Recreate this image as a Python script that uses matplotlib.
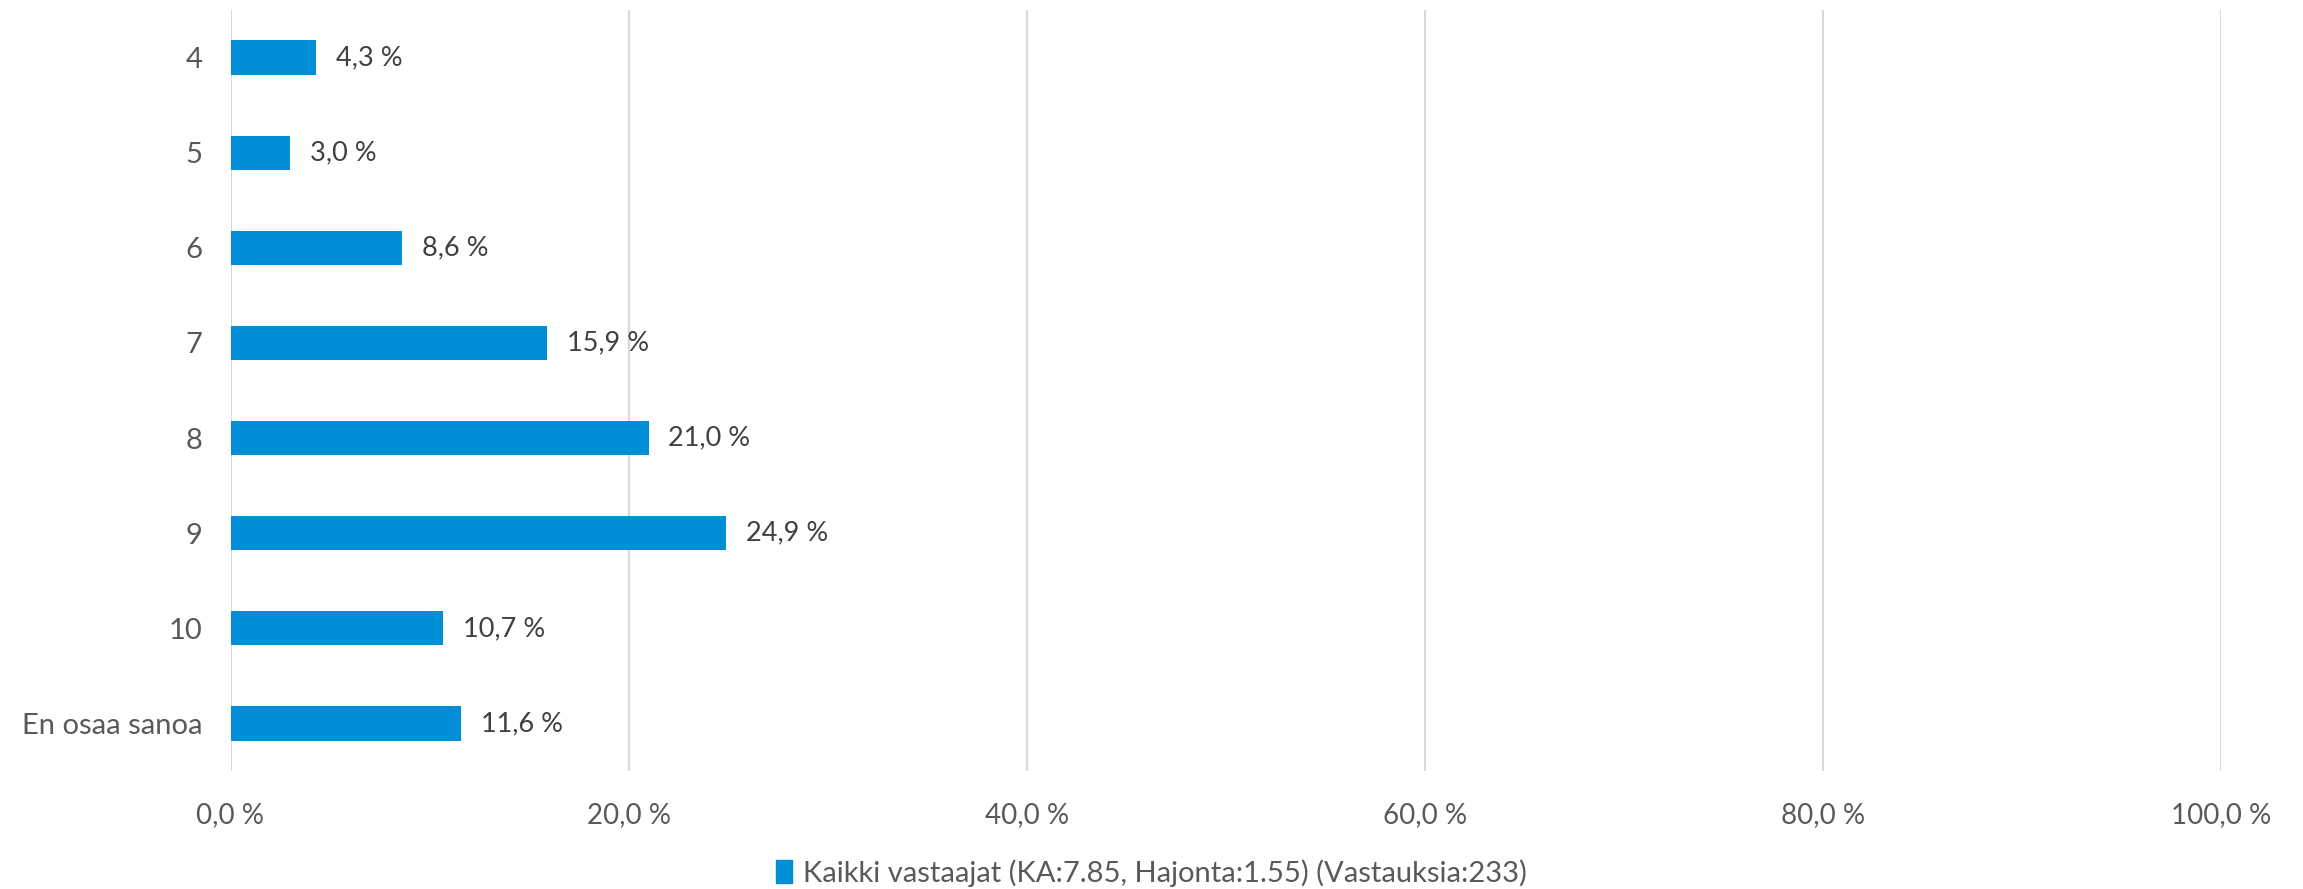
import matplotlib
matplotlib.use("Agg")
import matplotlib.pyplot as plt
from matplotlib.patches import Patch

categories = ["4", "5", "6", "7", "8", "9", "10", "En osaa sanoa"]
values = [4.3, 3.0, 8.6, 15.9, 21.0, 24.9, 10.7, 11.6]
xticks = [0, 20, 40, 60, 80, 100]
legend_label = "Kaikki vastaajat (KA:7.85, Hajonta:1.55) (Vastauksia:233)"

plt.rcParams['font.family'] = ['Lato', 'DejaVu Sans']
W, H = 2303, 889
fig = plt.figure(figsize=(W/100, H/100), dpi=100)
left, right = 230.5/W, 2221/W
bottom, top = 1 - 771/H, 1 - 10/H
ax = fig.add_axes([left, bottom, right-left, top-bottom])

FS = 19.5
color = "#008FD6"
y = list(range(len(categories)))
ax.barh(y, values, height=0.36, color=color, zorder=3)
for yi, v in zip(y, values):
    ax.text(v + 1.0, yi, f"{v:.1f} %".replace(".", ","), va="center", ha="left",
            fontsize=FS, color="#404040")

ax.set_ylim(len(categories) - 0.5, -0.5)
ax.set_xlim(0, 100)
ax.set_yticks(y)
ax.set_yticklabels(categories, fontsize=21, color="#595959")
ax.set_xticks(xticks)
ax.set_xticklabels([f"{t:.1f} %".replace(".", ",") for t in xticks], fontsize=FS + 0.5, color="#595959")
ax.tick_params(axis="both", length=0)
ax.tick_params(axis="x", pad=22)
ax.tick_params(axis="y", pad=20)
ax.grid(axis="x", color="#D9D9D9", linewidth=1.5, zorder=0)
for s in ax.spines.values():
    s.set_visible(False)

fig.legend(handles=[Patch(color=color, label=legend_label)], loc="center",
           bbox_to_anchor=(0.5, 1 - 873/H), frameon=False, fontsize=21,
           handlelength=0.55, handleheight=0.85, handletextpad=0.4, labelcolor="#595959")

fig.savefig("out.png", dpi=100)
